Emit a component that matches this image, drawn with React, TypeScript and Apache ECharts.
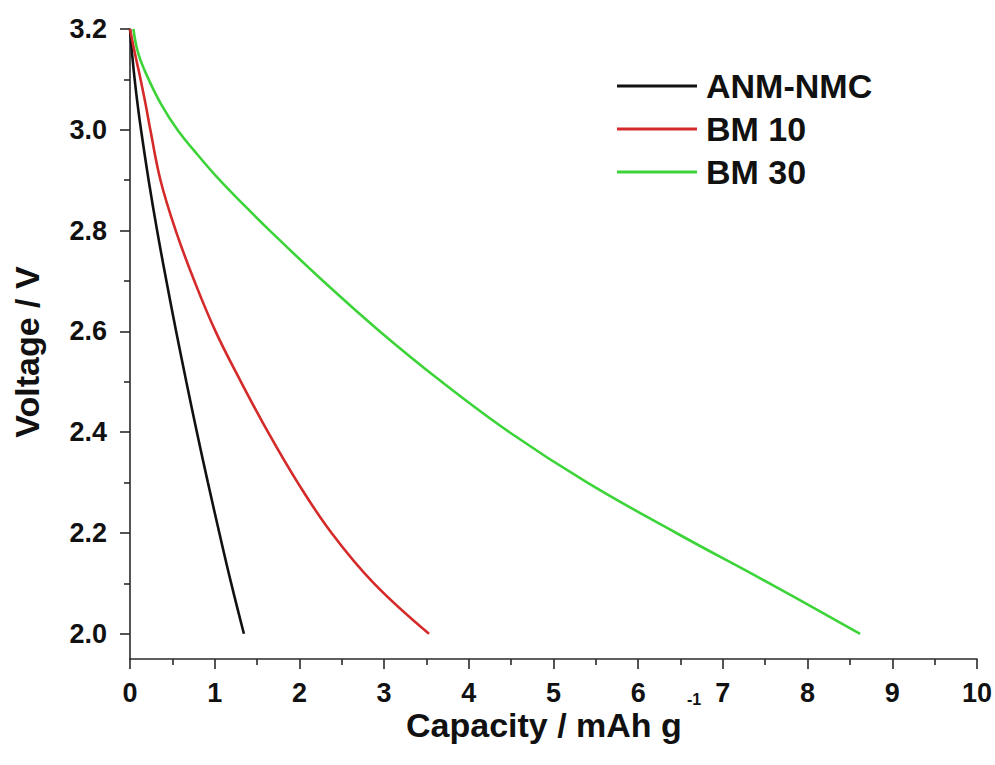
import React, { useEffect, useRef } from "react";
import * as echarts from "echarts";

// Capacity (mAh g^-1) and voltage (V) readings for each curve
const capANM = [0, 0.025, 0.055, 0.09, 0.13, 0.22, 0.32, 0.43, 0.545, 0.665, 0.79, 0.92, 1.055, 1.195, 1.345];
const voltANM = [3.2, 3.15, 3.1, 3.05, 3.0, 2.9, 2.8, 2.7, 2.6, 2.5, 2.4, 2.3, 2.2, 2.1, 2.0];

const capBM10 = [0, 0.06, 0.125, 0.185, 0.24, 0.36, 0.54, 0.76, 1.01, 1.31, 1.63, 1.98, 2.38, 2.88, 3.53];
const voltBM10 = [3.2, 3.15, 3.1, 3.05, 3.0, 2.9, 2.8, 2.7, 2.6, 2.5, 2.4, 2.3, 2.2, 2.1, 2.0];

const capBM30 = [0.04, 0.1, 0.22, 0.37, 0.56, 0.8, 1.06, 1.35, 1.65, 2.28, 2.95, 3.68, 4.48, 5.4, 6.45, 7.55, 8.62];
const voltBM30 = [3.2, 3.15, 3.1, 3.05, 3.0, 2.95, 2.9, 2.85, 2.8, 2.7, 2.6, 2.5, 2.4, 2.3, 2.2, 2.1, 2.0];

const seriesNames = ["ANM-NMC", "BM 10", "BM 30"];
const seriesColors = ["#111111", "#d42a2a", "#3dd43a"];

const yMajorTicks = [2.0, 2.2, 2.4, 2.6, 2.8, 3.0, 3.2];
const yMinorTicks = [2.1, 2.3, 2.5, 2.7, 2.9, 3.1];

const zip = (xs: number[], ys: number[]) => xs.map((x, i) => [x, ys[i]]);

const FONT = "'Liberation Sans', Arial, sans-serif";
const AXIS_COLOR = "#2a2a2a";

export default function App() {
  const ref = useRef<HTMLDivElement>(null);

  useEffect(() => {
    if (!ref.current) return;
    const chart = echarts.init(ref.current, undefined, { renderer: "svg" });
    const datasets = [zip(capANM, voltANM), zip(capBM10, voltBM10), zip(capBM30, voltBM30)];

    chart.setOption({
      animation: false,
      backgroundColor: "#ffffff",
      grid: { left: 130, right: 18, top: 29, bottom: 106, containLabel: false },
      legend: {
        orient: "vertical",
        left: 617,
        top: 69,
        padding: 0,
        icon: "rect",
        itemWidth: 80,
        itemHeight: 3,
        itemGap: 9,
        data: seriesNames,
        textStyle: {
          fontFamily: FONT,
          fontWeight: "bold",
          fontSize: 34,
          color: "#111",
          padding: [0, 0, 0, 4],
        },
      },
      xAxis: {
        type: "value",
        min: 0,
        max: 10,
        interval: 1,
        axisLine: { show: true, onZero: false, lineStyle: { color: AXIS_COLOR, width: 1.6 } },
        axisTick: { show: true, length: 10, lineStyle: { color: AXIS_COLOR, width: 1.6 } },
        minorTick: { show: true, splitNumber: 2, length: 6, lineStyle: { color: AXIS_COLOR, width: 1.6 } },
        splitLine: { show: false },
        axisLabel: {
          margin: 20,
          fontFamily: FONT,
          fontWeight: "bold",
          fontSize: 27,
          color: "#111",
        },
      },
      yAxis: [
        {
          type: "value",
          min: 1.95,
          max: 3.2,
          axisLine: { show: true, onZero: false, lineStyle: { color: AXIS_COLOR, width: 1.6 } },
          axisTick: { show: true, length: 10, customValues: yMajorTicks, lineStyle: { color: AXIS_COLOR, width: 1.6 } },
          splitLine: { show: false },
          axisLabel: {
            margin: 23,
            customValues: yMajorTicks,
            formatter: (v: number) => v.toFixed(1),
            fontFamily: FONT,
            fontWeight: "bold",
            fontSize: 27,
            color: "#111",
          },
        },
        {
          type: "value",
          min: 1.95,
          max: 3.2,
          position: "left",
          offset: 0,
          axisLine: { show: false },
          axisTick: { show: true, length: 6, customValues: yMinorTicks, lineStyle: { color: AXIS_COLOR, width: 1.6 } },
          splitLine: { show: false },
          axisLabel: { show: false },
        },
      ],
      graphic: [
        {
          type: "text",
          x: 27,
          y: 352,
          rotation: Math.PI / 2,
          style: {
            text: "Voltage / V",
            fontFamily: FONT,
            fontWeight: "bold",
            fontSize: 34,
            fill: "#111",
            align: "center",
            verticalAlign: "middle",
          },
        },
        {
          type: "text",
          x: 406,
          y: 725,
          style: {
            text: "Capacity / mAh g",
            fontFamily: FONT,
            fontWeight: "bold",
            fontSize: 34,
            fill: "#111",
            align: "left",
            verticalAlign: "middle",
          },
        },
        {
          type: "text",
          x: 687,
          y: 699,
          style: {
            text: "-1",
            fontFamily: FONT,
            fontWeight: "bold",
            fontSize: 16,
            fill: "#111",
            align: "left",
            verticalAlign: "middle",
          },
        },
      ],
      series: seriesNames.map((name, i) => ({
        name,
        type: "line",
        data: datasets[i],
        showSymbol: false,
        symbol: "none",
        smooth: 0.4,
        color: seriesColors[i],
        lineStyle: { color: seriesColors[i], width: 2.6 },
      })),
    });

    return () => chart.dispose();
  }, []);

  return (
    <div
      ref={ref}
      style={{ position: "fixed", left: 0, top: 0, width: 995, height: 765, background: "#fff" }}
    />
  );
}
